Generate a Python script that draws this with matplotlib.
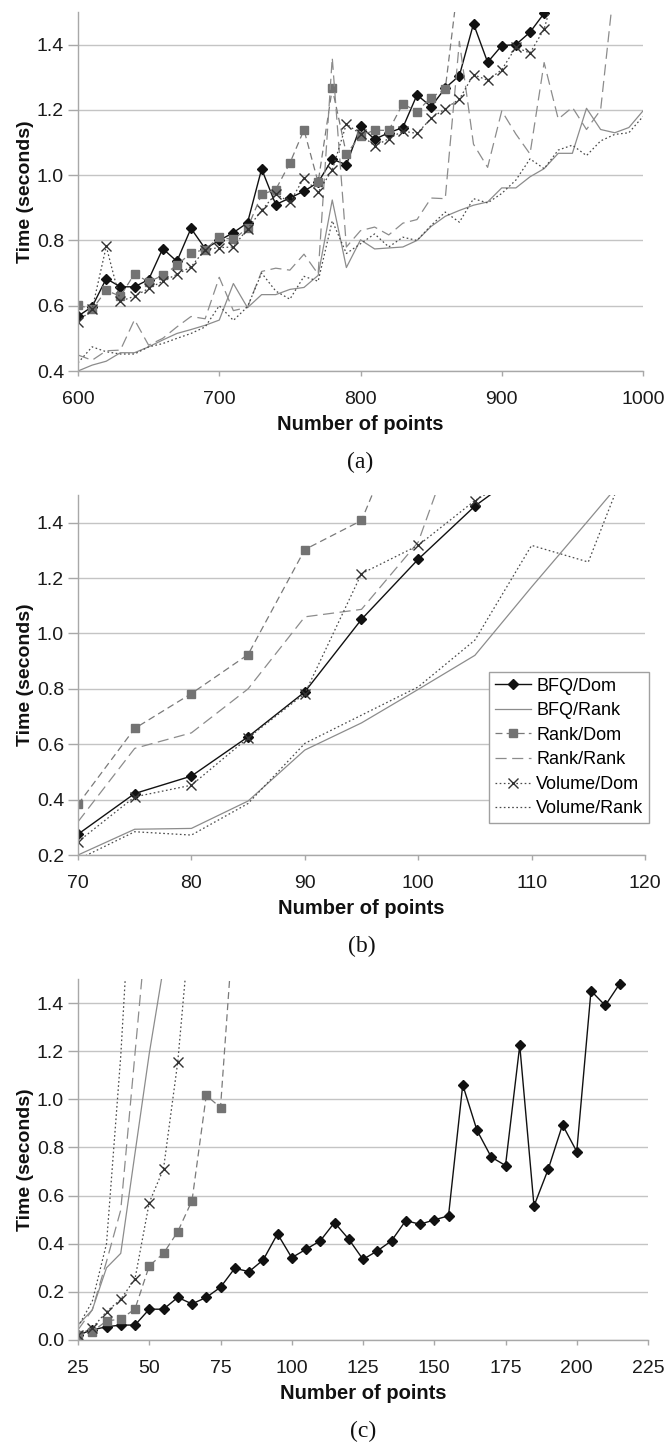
import matplotlib
matplotlib.use('Agg')
import matplotlib.pyplot as plt

plt.rcParams['font.family'] = ['Liberation Sans', 'DejaVu Sans']
plt.rcParams['lines.scale_dashes'] = False

series_names = ['BFQ/Dom', 'BFQ/Rank', 'Rank/Dom', 'Rank/Rank', 'Volume/Dom', 'Volume/Rank']

# ---- panel (a): 600..1000 points ----
x_a = list(range(600, 1001, 10))
bfq_dom_a = [0.568, 0.597, 0.683, 0.658, 0.658, 0.68, 0.775, 0.736, 0.837, 0.775, 0.80,
             0.824, 0.854, 1.019, 0.91, 0.93, 0.951, 0.978, 1.049, 1.032, 1.15,
             1.11, 1.13, 1.146, 1.246, 1.21, 1.267, 1.305, 1.464, 1.346, 1.397,
             1.40, 1.438, 1.496, 1.60]
bfq_rank_a = [0.40, 0.418, 0.43, 0.456, 0.456, 0.474, 0.495, 0.515, 0.527, 0.54, 0.556,
              0.668, 0.594, 0.634, 0.634, 0.65, 0.656, 0.693, 0.924, 0.717, 0.802,
              0.774, 0.777, 0.78, 0.80, 0.843, 0.874, 0.892, 0.908, 0.918, 0.961,
              0.961, 0.995, 1.02, 1.067, 1.067, 1.205, 1.14, 1.13, 1.146, 1.197]
rank_dom_a = [0.602, 0.589, 0.647, 0.629, 0.698, 0.673, 0.693, 0.724, 0.762, 0.772, 0.81,
              0.803, 0.838, 0.941, 0.956, 1.037, 1.139, 0.978, 1.266, 1.065, 1.121,
              1.138, 1.137, 1.219, 1.195, 1.238, 1.264, 1.62]
rank_rank_a = [0.449, 0.433, 0.462, 0.464, 0.557, 0.479, 0.50, 0.535, 0.567, 0.56, 0.687,
               0.585, 0.595, 0.705, 0.715, 0.709, 0.758, 0.697, 1.36, 0.78, 0.83,
               0.841, 0.817, 0.853, 0.864, 0.93, 0.928, 1.41, 1.095, 1.024, 1.197,
               1.126, 1.065, 1.345, 1.172, 1.208, 1.14, 1.20, 1.60]
volume_dom_a = [0.551, 0.589, 0.782, 0.614, 0.629, 0.653, 0.675, 0.696, 0.719, 0.772, 0.778,
                0.78, 0.836, 0.892, 0.943, 0.917, 0.992, 0.948, 1.016, 1.157, 1.126,
                1.089, 1.112, 1.135, 1.128, 1.174, 1.204, 1.233, 1.308, 1.291, 1.323,
                1.392, 1.374, 1.448, 1.60]
volume_rank_a = [0.425, 0.474, 0.459, 0.452, 0.452, 0.474, 0.484, 0.50, 0.515, 0.535, 0.60,
                 0.555, 0.597, 0.70, 0.645, 0.62, 0.69, 0.675, 0.86, 0.76, 0.79,
                 0.82, 0.78, 0.81, 0.80, 0.846, 0.887, 0.856, 0.928, 0.915, 0.944,
                 0.985, 1.05, 1.02, 1.077, 1.092, 1.06, 1.105, 1.125, 1.13, 1.18]

# ---- panel (b): 70..120 points ----
x_b = list(range(70, 121, 5))
bfq_dom_b = [0.275, 0.422, 0.485, 0.627, 0.789, 1.051, 1.268, 1.46, 1.61]
bfq_rank_b = [0.20, 0.293, 0.296, 0.395, 0.579, 0.677, 0.798, 0.921, 1.168, 1.408, 1.65]
rank_dom_b = [0.383, 0.657, 0.783, 0.924, 1.303, 1.408, 1.90]
rank_rank_b = [0.32, 0.585, 0.641, 0.80, 1.06, 1.087, 1.33, 1.90]
volume_dom_b = [0.248, 0.41, 0.452, 0.623, 0.783, 1.216, 1.318, 1.48, 1.60]
volume_rank_b = [0.184, 0.284, 0.272, 0.386, 0.603, 0.705, 0.807, 0.976, 1.318, 1.258, 1.78]

# ---- panel (c): 25..220 points ----
x_c = list(range(25, 221, 5))
bfq_dom_c = [0.021, 0.042, 0.055, 0.062, 0.062, 0.128, 0.128, 0.177, 0.15, 0.177, 0.219,
             0.298, 0.284, 0.333, 0.441, 0.342, 0.377, 0.412, 0.488, 0.419, 0.335,
             0.37, 0.412, 0.496, 0.481, 0.499, 0.516, 1.06, 0.871, 0.76, 0.725,
             1.224, 0.557, 0.71, 0.894, 0.783, 1.451, 1.39, 1.479, 2.0]
bfq_rank_c = [0.062, 0.125, 0.30, 0.36, 0.776, 1.19, 1.55]
rank_dom_c = [0.021, 0.035, 0.079, 0.087, 0.129, 0.308, 0.36, 0.45, 0.579, 1.016, 0.966, 1.80]
rank_rank_c = [0.042, 0.125, 0.326, 0.54, 1.19, 1.84]
volume_dom_c = [0.021, 0.049, 0.118, 0.169, 0.254, 0.571, 0.711, 1.155, 1.82]
volume_rank_c = [0.055, 0.16, 0.40, 1.18, 2.2]

styles = {
    'BFQ/Dom': dict(color='#111111', ls='-', lw=1.0, marker='D', ms=5.5,
                    mfc='#111111', mec='#111111'),
    'BFQ/Rank': dict(color='#8c8c8c', ls='-', lw=0.9),
    'Rank/Dom': dict(color='#7a7a7a', ls=(0, (5, 3)), lw=0.9, marker='s', ms=5.5,
                     mfc='#737373', mec='#737373'),
    'Rank/Rank': dict(color='#8c8c8c', ls=(0, (8, 4)), lw=0.9),
    'Volume/Dom': dict(color='#4a4a4a', ls=(0, (1.2, 1.8)), lw=0.9, marker='x', ms=6.5,
                       mew=1.0, mec='#333333'),
    'Volume/Rank': dict(color='#4a4a4a', ls=(0, (1.2, 1.8)), lw=0.9),
}

W, H = 668, 1446
fig = plt.figure(figsize=(W / 100, H / 100), dpi=100)


def px_axes(left, right, top, bottom):
    return fig.add_axes([left / W, 1 - bottom / H, (right - left) / W, (bottom - top) / H])


def draw_panel(ax, x, data):
    for name, vals in zip(series_names, data):
        ax.plot(x[:len(vals)], vals, label=name, **styles[name])


def style_axes(ax, xlim, xticks, ylim, yticks, width_px, caption, cap_y):
    ax.set_xlim(xlim)
    ax.set_ylim(ylim)
    ax.set_xticks(xticks)
    ax.set_yticks(yticks)
    ax.set_yticklabels([f'{v:.1f}' for v in yticks])
    ax.grid(axis='y', color='#c4c4c4', lw=1.0)
    ax.set_axisbelow(True)
    for s in ['top', 'right']:
        ax.spines[s].set_visible(False)
    for s in ['left', 'bottom']:
        ax.spines[s].set_color('#a8a8a8')
        ax.spines[s].set_linewidth(1.0)
    ax.tick_params(axis='x', direction='out', length=3.5, width=1, color='#a8a8a8',
                   pad=11, labelsize=14, labelcolor='#1a1a1a')
    ax.tick_params(axis='y', direction='out', length=7, width=1, color='#a8a8a8',
                   pad=3, labelsize=14, labelcolor='#1a1a1a')
    ax.set_xlabel('Number of points', fontsize=14.5, fontweight='bold', labelpad=5,
                  color='#111111')
    ax.set_ylabel('Time (seconds)', fontsize=14, fontweight='bold', color='#111111')
    ax.yaxis.set_label_coords((34 - 78) / width_px, 0.5)
    pos = ax.get_position()
    fig.text(pos.x0 + pos.width / 2, 1 - cap_y / H, caption, ha='center', va='center',
             family=['Liberation Serif', 'DejaVu Serif'], fontsize=17, color='#111111')


ax_a = px_axes(78, 643, 12, 371)
draw_panel(ax_a, x_a, [bfq_dom_a, bfq_rank_a, rank_dom_a, rank_rank_a, volume_dom_a, volume_rank_a])
style_axes(ax_a, (600, 1000), [600, 700, 800, 900, 1000], (0.4, 1.5),
           [0.4, 0.6, 0.8, 1.0, 1.2, 1.4], 565, '(a)', 462)

ax_b = px_axes(78, 645, 495, 855)
draw_panel(ax_b, x_b, [bfq_dom_b, bfq_rank_b, rank_dom_b, rank_rank_b, volume_dom_b, volume_rank_b])
style_axes(ax_b, (70, 120), [70, 80, 90, 100, 110, 120], (0.2, 1.5),
           [0.2, 0.4, 0.6, 0.8, 1.0, 1.2, 1.4], 567, '(b)', 946)
leg = ax_b.legend(loc='upper right', bbox_to_anchor=(1.007, 0.508), fontsize=13,
                  handlelength=2.0, handletextpad=0.3, labelspacing=0.42, borderpad=0.3,
                  borderaxespad=0, fancybox=False, framealpha=1, edgecolor='#a0a0a0',
                  numpoints=1)
leg.get_frame().set_linewidth(1.0)

ax_c = px_axes(78, 648, 979, 1340)
draw_panel(ax_c, x_c, [bfq_dom_c, bfq_rank_c, rank_dom_c, rank_rank_c, volume_dom_c, volume_rank_c])
style_axes(ax_c, (25, 225), list(range(25, 226, 25)), (0.0, 1.5),
           [0.0, 0.2, 0.4, 0.6, 0.8, 1.0, 1.2, 1.4], 570, '(c)', 1431)

fig.savefig('out.png', dpi=100, facecolor='white')
